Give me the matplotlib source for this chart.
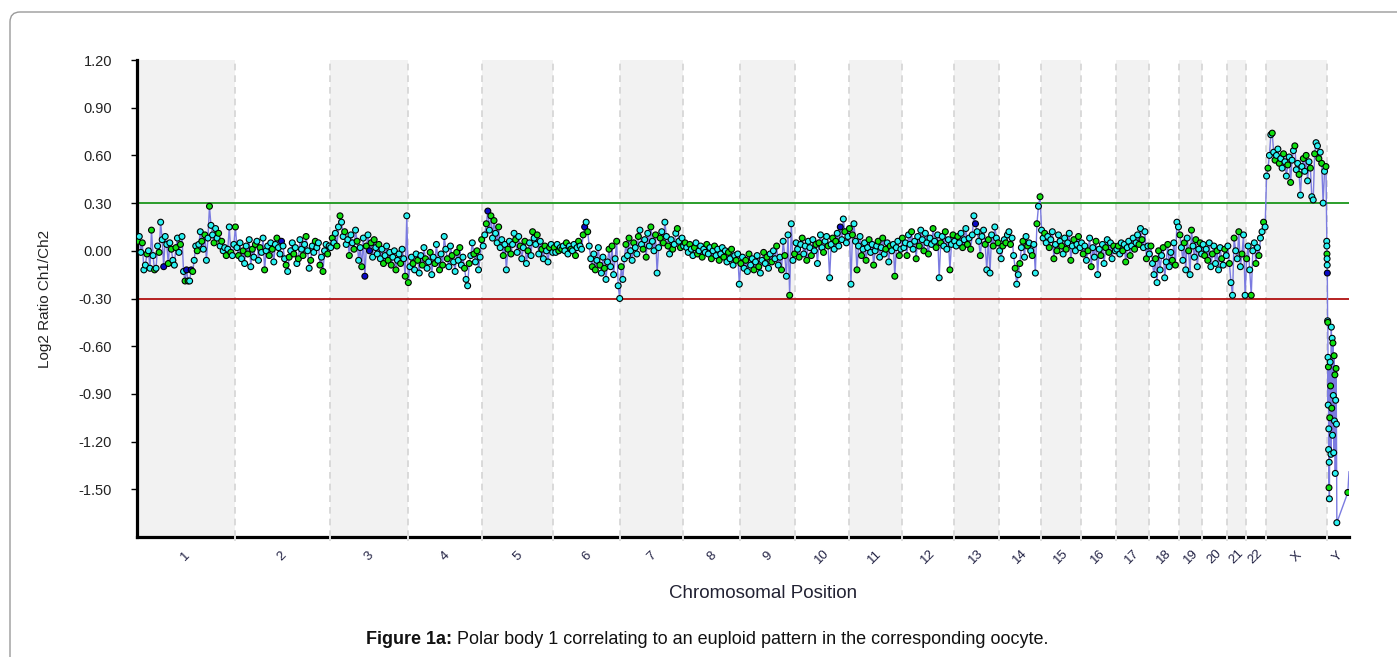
import numpy as np
import matplotlib.pyplot as plt
from matplotlib.patches import FancyBboxPatch
from matplotlib.transforms import IdentityTransform

plt.rcParams['font.family'] = ['Liberation Sans', 'DejaVu Sans']

# chromosome names and sizes (Mb)
chrom_names = [str(i) for i in range(1, 23)] + ['X', 'Y']
chrom_sizes = [249, 243, 198, 191, 181, 171, 159, 146, 141, 136, 135, 133,
               115, 107, 102, 90, 83, 78, 59, 63, 48, 51, 155, 57]

# log2 ratio per probe, chromosome by chromosome
chr1 = [0.06, 0.09, -0.01, 0.05, -0.12, -0.09, -0.02, 0.00, -0.11, 0.13, -0.03, -0.12, -0.11, 0.03, -0.01, 0.18,
        0.07, -0.10, 0.09, 0.04, -0.08, 0.05, 0.01, -0.06, -0.09, 0.02, 0.08, -0.01, 0.04, 0.09, -0.13, -0.19,
        -0.12, -0.19, -0.19, -0.12, -0.13, -0.06, 0.03, 0.00, 0.04, 0.12, 0.06, 0.01, 0.10, -0.06, 0.08, 0.28,
        0.16, 0.10, 0.05, 0.14, 0.08, 0.11, 0.03, 0.06, 0.00, 0.02, -0.03, 0.01, 0.15, -0.01, -0.03, 0.04]
chr2 = [0.15, 0.02, -0.03, 0.05, -0.05, 0.00, -0.08, 0.03, -0.02, 0.07, -0.10, 0.01, -0.04, 0.04, 0.06, -0.06,
        0.02, -0.01, 0.08, -0.12, 0.00, 0.03, -0.03, 0.05, 0.01, -0.07, 0.04, 0.08, 0.02, -0.02, 0.06, 0.03,
        -0.05, -0.09, -0.13, -0.04, 0.00, 0.05, -0.02, 0.02, -0.08, -0.05, 0.07, 0.01, -0.03, 0.04, 0.09, 0.00,
        -0.11, -0.06, 0.03, -0.01, 0.06, 0.02, 0.05, -0.09, -0.04, -0.13, 0.00, 0.04, -0.02, 0.03]
chr3 = [0.02, 0.08, 0.05, 0.11, 0.03, 0.15, 0.22, 0.18, 0.09, 0.12, 0.04, 0.07, -0.03, 0.10, 0.05, 0.01,
        0.13, 0.06, -0.06, 0.02, -0.10, 0.08, -0.16, 0.03, 0.10, 0.00, 0.05, -0.04, 0.07, 0.02, -0.02, 0.04,
        -0.05, 0.01, -0.08, -0.03, 0.03, -0.06, -0.01, -0.09, -0.04, 0.00, -0.12, -0.06, -0.02, -0.08, 0.01,
        -0.05, -0.16, 0.22]
chr4 = [-0.20, -0.10, -0.04, -0.08, -0.12, -0.02, -0.06, -0.14, -0.03, -0.09, 0.02, -0.05, -0.11, -0.07, -0.01,
        -0.15, -0.04, -0.08, 0.04, -0.06, -0.12, -0.02, -0.09, 0.09, 0.01, -0.05, -0.10, 0.03, -0.03, -0.07,
        -0.13, -0.01, -0.06, 0.02, -0.09, -0.04, -0.11, -0.18, -0.22, -0.08, -0.03, 0.05, -0.02, -0.07, 0.00,
        -0.12, -0.04, 0.07]
chr5 = [0.03, 0.10, 0.17, 0.25, 0.13, 0.22, 0.08, 0.19, 0.11, 0.05, 0.15, 0.02, 0.07, -0.03, 0.04, -0.12,
        0.01, 0.06, -0.02, 0.04, 0.11, 0.07, -0.01, 0.09, 0.03, -0.05, 0.02, 0.06, -0.08, 0.00, 0.05, -0.03,
        0.12, 0.08, 0.04, 0.10, -0.02, 0.06, 0.01, -0.05, 0.03, 0.00, -0.07, 0.02, 0.04, -0.01]
chr6 = [0.02, -0.01, 0.04, 0.00, 0.02, 0.01, 0.03, 0.00, 0.05, -0.02, 0.03, 0.01, 0.00, 0.04, -0.03, 0.02,
        0.06, 0.03, 0.01, 0.10, 0.15, 0.18, 0.12, 0.03, -0.05, -0.10, -0.02, -0.12, -0.06, 0.02, -0.09, -0.14,
        -0.04, -0.11, -0.18, -0.07, 0.01, -0.10, 0.03, -0.15, -0.05, 0.06, -0.22, -0.30]
chr7 = [-0.10, -0.18, -0.05, 0.04, -0.03, 0.08, 0.00, -0.06, 0.05, 0.02, -0.02, 0.09, 0.13, 0.04, 0.01, 0.07,
        -0.04, 0.11, 0.03, 0.15, 0.06, 0.00, 0.10, -0.14, 0.02, 0.08, 0.12, 0.05, 0.18, 0.09, 0.03, -0.02,
        0.07, 0.01, 0.04, 0.11, 0.14, 0.06, 0.02, 0.08]
chr8 = [0.03, 0.05, 0.02, -0.01, 0.04, 0.01, -0.03, 0.02, 0.05, -0.02, 0.00, 0.03, -0.04, 0.01, -0.01, 0.04,
        -0.02, 0.02, -0.05, 0.00, 0.03, -0.03, 0.01, -0.06, -0.02, 0.02, -0.04, 0.00, -0.07, -0.01, -0.05,
        0.01, -0.09, -0.03, -0.06, -0.02, -0.21]
chr9 = [-0.08, -0.04, -0.11, -0.06, -0.13, -0.02, -0.09, -0.05, -0.12, -0.07, -0.03, -0.10, -0.14, -0.06,
        -0.01, -0.08, -0.04, -0.11, -0.02, -0.07, 0.00, -0.05, 0.03, -0.09, -0.04, -0.12, 0.06, -0.03, -0.16,
        0.10, -0.28, 0.17, -0.06, -0.02]
chr10 = [0.05, 0.01, -0.04, 0.04, 0.08, -0.02, 0.03, -0.06, 0.06, 0.02, -0.03, 0.07, 0.00, 0.04, -0.08, 0.05,
         0.10, 0.02, -0.01, 0.06, 0.09, 0.03, -0.17, 0.04, 0.08, 0.01, 0.06, 0.11, 0.03, 0.15, 0.07, 0.20,
         0.12, 0.05, 0.09]
chr11 = [0.14, -0.21, 0.10, 0.17, 0.06, -0.12, 0.03, 0.09, -0.03, 0.01, 0.05, -0.06, 0.02, 0.07, -0.01, 0.04,
         -0.09, 0.00, 0.03, 0.06, -0.04, 0.02, 0.08, -0.02, 0.01, 0.05, -0.07, 0.03, 0.00, 0.04, -0.16, 0.02,
         0.06, -0.03, 0.01]
chr12 = [0.08, 0.02, 0.05, -0.03, 0.10, 0.04, 0.12, 0.01, 0.06, -0.05, 0.09, 0.03, 0.13, 0.07, 0.00, 0.11,
         0.05, -0.02, 0.08, 0.04, 0.14, 0.06, 0.02, 0.10, -0.17, 0.05, 0.09, 0.03, 0.12, 0.01, 0.07, -0.12,
         0.04, 0.10]
chr13 = [0.06, 0.03, 0.09, 0.05, 0.11, 0.02, 0.07, 0.14, 0.04, 0.08, 0.01, 0.10, 0.22, 0.17, 0.12, 0.06,
         -0.03, 0.09, 0.13, 0.04, -0.12, 0.07, -0.14, 0.10, 0.03, 0.15, 0.08, 0.05]
chr14 = [0.00, -0.05, 0.03, 0.07, 0.05, 0.10, 0.12, 0.04, 0.08, -0.03, -0.11, -0.21, -0.15, -0.08, 0.02, 0.06,
         -0.04, 0.09, 0.03, 0.05, 0.00, -0.03, 0.04, -0.14, 0.17, 0.28, 0.34]
chr15 = [0.13, 0.08, 0.11, 0.05, 0.09, 0.02, 0.07, 0.12, -0.05, 0.04, 0.00, 0.10, 0.06, 0.03, -0.02, 0.08,
         0.01, 0.05, 0.11, -0.06, 0.03, 0.07, 0.00, 0.04, 0.09, 0.02]
chr16 = [0.05, -0.02, 0.03, -0.06, 0.00, 0.08, -0.10, 0.02, -0.04, 0.06, -0.15, 0.01, -0.03, 0.04, -0.08,
         0.02, 0.07, -0.01, 0.05, -0.05, 0.03, 0.00]
chr17 = [0.01, 0.03, -0.02, 0.05, 0.00, 0.04, -0.07, 0.02, 0.06, -0.03, 0.03, 0.08, 0.01, 0.05, 0.10, 0.04,
         0.14, 0.07, 0.02, 0.12, -0.05, 0.03]
chr18 = [-0.02, 0.03, -0.08, -0.15, -0.05, -0.20, 0.00, -0.12, -0.03, 0.02, -0.17, -0.07, 0.04, -0.10, -0.01,
         -0.06, 0.05, -0.09, 0.18, 0.15]
chr19 = [0.10, 0.02, -0.06, 0.05, -0.12, 0.08, 0.00, -0.15, 0.13, 0.03, -0.04, 0.07, -0.10, 0.01, 0.05, -0.02]
chr20 = [0.04, -0.03, 0.01, -0.06, 0.05, -0.10, -0.02, 0.03, -0.08, 0.00, -0.12, 0.02, -0.05, -0.09, 0.01, -0.03]
chr21 = [0.03, -0.08, -0.20, -0.28, 0.08, 0.00, -0.05, 0.12, -0.10, -0.02, 0.10, -0.28]
chr22 = [-0.05, 0.03, -0.12, -0.28, 0.00, 0.05, -0.08, 0.02, -0.03, 0.08, 0.12, 0.18, 0.15]
chrX = [0.47, 0.52, 0.60, 0.73, 0.74, 0.62, 0.57, 0.60, 0.64, 0.55, 0.58, 0.52, 0.61, 0.56, 0.47, 0.54,
        0.59, 0.43, 0.57, 0.63, 0.66, 0.51, 0.55, 0.48, 0.35, 0.53, 0.58, 0.50, 0.60, 0.44, 0.56, 0.52,
        0.34, 0.32, 0.61, 0.68, 0.66, 0.58, 0.62, 0.55, 0.30, 0.50, 0.53]
# Y probes sit mostly in the first part of the chromosome
chrY_pos = [0.2, 0.5, 0.8, 1.1, 1.4, 1.7, 2.5, 3.0, 3.5, 4.0, 4.5, 5.0, 5.5, 6.0, 6.5, 7.0, 8, 9, 10, 11,
            12, 13, 14, 15, 16, 17, 18, 19, 20, 21, 22, 23, 24, 25, 26, 54, 57]
chrY = [0.06, 0.03, -0.02, -0.05, -0.09, -0.14, -0.44, -0.45, -0.67, -0.97, -0.73, -1.25, -1.12, -1.49, -1.33,
        -1.56, -1.05, -0.70, -0.85, -1.28, -0.48, -0.99, -0.55, -1.16, -0.58, -0.91, -1.27, -0.66, -1.07,
        -0.78, -1.40, -0.94, -0.74, -1.09, -1.71, -1.52, -1.39]

ratios = [chr1, chr2, chr3, chr4, chr5, chr6, chr7, chr8, chr9, chr10, chr11, chr12,
          chr13, chr14, chr15, chr16, chr17, chr18, chr19, chr20, chr21, chr22, chrX, chrY]

# probes flagged in dark blue
blue_probes = {'1': [17, 32, 35], '2': [30], '3': [22, 25], '5': [3], '6': [20], '10': [29], '13': [13], 'Y': [5]}

gain_cut = 0.30
loss_cut = -0.30

starts = np.concatenate([[0], np.cumsum(chrom_sizes)[:-1]])
ends = np.cumsum(chrom_sizes)
mids = (starts + ends) / 2

xs, ys, cols = [], [], []
for k, (name, vals) in enumerate(zip(chrom_names, ratios)):
    n = len(vals)
    if name == 'Y':
        pos = starts[k] + np.array(chrY_pos)
    else:
        pos = starts[k] + (np.arange(n) + 0.5) * chrom_sizes[k] / n
    for i in range(n):
        g = len(cols)
        if i in blue_probes.get(name, []):
            c = '#0a0ac8'
        elif (g * 37) % 11 < 4:
            c = '#10e010'
        else:
            c = '#2af2f2'
        cols.append(c)
    xs.extend(pos)
    ys.extend(vals)
xs = np.array(xs)
ys = np.array(ys)
cols = np.array(cols)

fig = plt.figure(figsize=(13.97, 6.57), dpi=100)
ax = fig.add_axes([137 / 1397, 120 / 657, 1212 / 1397, 477 / 657])
ax.set_xlim(0, ends[-1])
ax.set_ylim(-1.8, 1.2)

# alternating chromosome bands and dashed separators
for k in range(len(chrom_names)):
    if k % 2 == 0:
        ax.axvspan(starts[k], ends[k], color='#f2f2f2', lw=0, zorder=0)
for b in ends[:-1]:
    ax.plot([b, b], [-1.8, 1.2], color='#d4d4d4', lw=1.2, ls=(0, (4, 3)), zorder=1)
    ax.plot([b, b], [-1.822, -1.79], color='#dedede', lw=1.4, zorder=6, clip_on=False)

ax.axhline(gain_cut, color='#1a961a', lw=1.3, zorder=2)
ax.axhline(loss_cut, color='#b01010', lw=1.3, zorder=2)

ax.plot(xs, ys, color='#7b7be0', lw=1.0, zorder=3)
show = np.ones(len(xs), bool)
show[-1] = False
ax.scatter(xs[show], ys[show], s=18, c=cols[show], edgecolors='black', linewidths=0.8, zorder=4)

for side in ['top', 'right']:
    ax.spines[side].set_visible(False)
for side in ['left', 'bottom']:
    ax.spines[side].set_linewidth(2.3)

ax.set_yticks(np.arange(-1.5, 1.21, 0.3))
ax.set_yticklabels(['%.2f' % v for v in np.arange(-1.5, 1.21, 0.3)])
ax.tick_params(axis='y', direction='out', length=4, width=1, pad=14, labelsize=10.5, labelcolor='#222222')
ax.set_xticks(mids)
ax.set_xticklabels(chrom_names)
ax.tick_params(axis='x', length=0, pad=14, labelsize=9.5, labelcolor='#222244')
for lab in ax.get_xticklabels():
    lab.set_rotation(45)
    lab.set_ha('center')
    lab.set_va('center')
    lab.set_rotation_mode('anchor')

ax.set_ylabel('Log2 Ratio Ch1/Ch2', fontsize=11, color='#222222')
ax.yaxis.set_label_coords((45 - 137) / 1212, 0.5)
ax.yaxis.label.set_va('center')
ax.set_xlabel('Chromosomal Position', fontsize=13.5, color='#222233')
ax.xaxis.set_label_coords((763 - 137) / 1212, -(593 - 537) / 477)
ax.xaxis.label.set_va('center')

# outer rounded frame
frame = FancyBboxPatch((10, -30), 1420, 675, boxstyle='round,pad=0,rounding_size=10',
                       transform=IdentityTransform(), fc='none', ec='#9a9a9a', lw=1)
fig.add_artist(frame)

# caption: bold lead-in followed by regular text
r = fig.canvas.get_renderer()
tb = fig.text(0, 18 / 657, 'Figure 1a:', fontsize=13, fontweight='bold', va='center', color='#111111')
tn = fig.text(0, 18 / 657, ' Polar body 1 correlating to an euploid pattern in the corresponding oocyte.',
              fontsize=13, va='center', color='#111111')
wb = tb.get_window_extent(r).width
wn = tn.get_window_extent(r).width
x0 = 707.5 - (wb + wn) / 2
tb.set_x(x0 / 1397)
tn.set_x((x0 + wb) / 1397)

fig.savefig('out.png', dpi=100)
